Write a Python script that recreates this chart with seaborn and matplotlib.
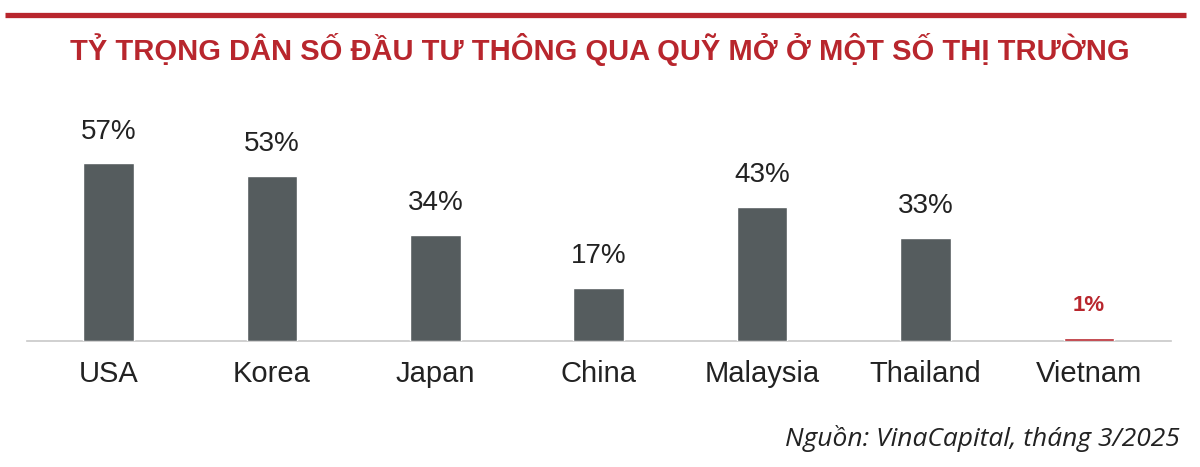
import matplotlib
matplotlib.use("Agg")
import matplotlib.pyplot as plt
import seaborn as sns
import pandas as pd

# data
countries = ["USA", "Korea", "Japan", "China", "Malaysia", "Thailand", "Vietnam"]
shares = [57, 53, 34, 17, 43, 33, 1]
labels = ["57%", "53%", "34%", "17%", "43%", "33%", "1%"]

title = "TỶ TRỌNG DÂN SỐ ĐẦU TƯ THÔNG QUA QUỸ MỞ Ở MỘT SỐ THỊ TRƯỜNG"
source = "Nguồn: VinaCapital, tháng 3/2025"

grey = "#555c5e"
red = "#b8262d"
colors = [grey] * 6 + [red]

df = pd.DataFrame({"country": countries, "share": shares})

sns.set_style("white")
plt.rcParams["font.family"] = ["Liberation Sans", "DejaVu Sans"]

fig = plt.figure(figsize=(12, 4.67), dpi=100)
ax = fig.add_axes([0.0225, 0.27, 0.953, 0.52])

sns.barplot(data=df, x="country", y="share", hue="country", palette=colors,
            legend=False, width=0.31, saturation=1, ax=ax, zorder=3)

ax.set_xlim(-0.5, 6.5)
ax.set_ylim(0, 78)
ax.set_xlabel("")
ax.set_ylabel("")
ax.set_yticks([])
for s in ["top", "right", "left"]:
    ax.spines[s].set_visible(False)
ax.spines["bottom"].set_color("#c8c8c8")
ax.spines["bottom"].set_linewidth(1.2)
ax.spines["bottom"].set_zorder(1)
ax.tick_params(axis="x", length=0, pad=14, labelsize=21, colors="#222222")

# value labels
for i, (v, lab) in enumerate(zip(shares, labels)):
    if countries[i] == "Vietnam":
        ax.text(i, v + 7, lab, ha="center", va="bottom", fontsize=16,
                fontweight="bold", color=red)
    else:
        ax.text(i, v + 6, lab, ha="center", va="bottom", fontsize=20,
                color="#222222")

# top red rule and title
fig.add_artist(plt.Line2D([0.004, 0.988], [0.967, 0.967], color=red, lw=3.8,
                          solid_capstyle="butt", transform=fig.transFigure))
fig.text(0.5, 0.895, title, ha="center", va="center", fontsize=21,
         fontweight="bold", color=red,
         family=["Liberation Sans Narrow", "Liberation Sans", "DejaVu Sans"])

fig.text(0.983, 0.06, source, ha="right", va="center", fontsize=19,
         style="italic", color="#222222", family=["Open Sans", "DejaVu Sans"])

fig.savefig("out.png", dpi=100, facecolor="white")
